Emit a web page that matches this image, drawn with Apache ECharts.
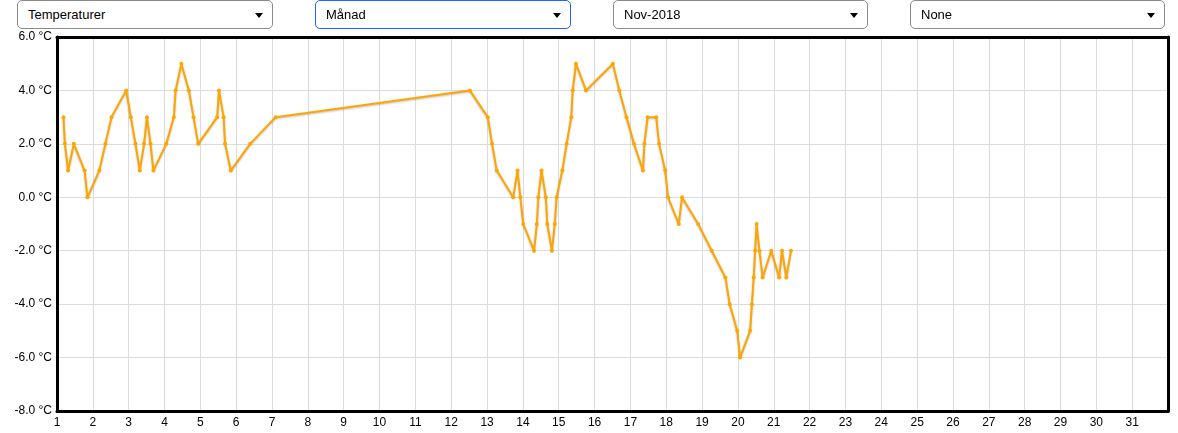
<!DOCTYPE html>
<html>
<head>
<meta charset="utf-8">
<script src="https://cdn.jsdelivr.net/npm/echarts@6/dist/echarts.min.js"></script>
<style>
  html, body { margin: 0; padding: 0; background: #fff; width: 1178px; height: 433px; overflow: hidden; font-family: "Liberation Sans", Arial, sans-serif; }
  #chart { position: absolute; left: 0; top: 0; width: 1178px; height: 433px; }
  .sel { position: absolute; top: 0; height: 29px; box-sizing: border-box; border: 1px solid #8a8a8a; border-radius: 5px; background: #fff; font-size: 13px; color: #000; line-height: 27px; padding-left: 10px; z-index: 2; }
  .sel.focus { border-color: #1a66ff; }
  .sel .arr { position: absolute; right: 9px; top: 12px; width: 0; height: 0; border-left: 4px solid transparent; border-right: 4px solid transparent; border-top: 5px solid #000; }
</style>
</head>
<body>
<div id="chart"></div>
<div class="sel" style="left:17px;width:256px;">Temperaturer<span class="arr"></span></div>
<div class="sel focus" style="left:315px;width:256px;">Månad<span class="arr"></span></div>
<div class="sel" style="left:613px;width:255px;">Nov-2018<span class="arr"></span></div>
<div class="sel" style="left:910px;width:255px;">None<span class="arr"></span></div>
<script>
// Day of month (fractional) of each observation
var days = [1.18, 1.22, 1.31, 1.47, 1.77, 1.85, 2.18, 2.35, 2.52, 2.93,
  3.06, 3.19, 3.31, 3.43, 3.51, 3.61, 3.69, 4.05, 4.26, 4.31,
  4.47, 4.68, 4.81, 4.94, 5.47, 5.52, 5.65, 5.69, 5.85, 6.39,
  7.10, 12.52, 13.02, 13.14, 13.27, 13.73, 13.85, 13.93, 14.01, 14.31,
  14.39, 14.43, 14.52, 14.64, 14.68, 14.81, 14.89, 14.94, 15.10, 15.22,
  15.35, 15.39, 15.48, 15.76, 16.51, 16.69, 16.89, 17.10, 17.35, 17.39,
  17.48, 17.72, 17.80, 17.97, 18.05, 18.35, 18.44, 18.89, 19.27, 19.65,
  19.77, 19.98, 20.06, 20.34, 20.39, 20.44, 20.48, 20.52, 20.60, 20.69,
  20.93, 21.15, 21.23, 21.35, 21.48];
// Temperature (°C)
var temps = [3, 2, 1, 2, 1, 0, 1, 2, 3, 4,
  3, 2, 1, 2, 3, 2, 1, 2, 3, 4,
  5, 4, 3, 2, 3, 4, 3, 2, 1, 2,
  3, 4, 3, 2, 1, 0, 1, 0, -1, -2,
  -1, 0, 1, 0, -1, -2, -1, 0, 1, 2,
  3, 4, 5, 4, 5, 4, 3, 2, 1, 2,
  3, 3, 2, 1, 0, -1, 0, -1, -2, -3,
  -4, -5, -6, -5, -4, -3, -2, -1, -2, -3,
  -2, -3, -2, -3, -2];
var seriesName = 'Temperaturer';

var chart = echarts.init(document.getElementById('chart'));
var pts = days.map(function (d, i) { return [d, temps[i]]; });
chart.setOption({
  animation: false,
  grid: { left: 57, right: 10, top: 37, bottom: 22, show: false },
  xAxis: [{
    type: 'value', min: 1, max: 32, interval: 1, position: 'bottom',
    axisLine: { show: true, onZero: false, lineStyle: { color: '#000', width: 3 } }, axisTick: { show: false },
    axisLabel: { color: '#000', fontSize: 12, fontFamily: 'Liberation Sans', margin: 6,
      formatter: function (v) { return v >= 32 ? '' : String(v); } },
    splitLine: { show: true, showMinLine: false, showMaxLine: false, lineStyle: { color: '#dcdcdc', width: 1 } }
  }, {
    type: 'value', min: 1, max: 32, position: 'top',
    axisLine: { show: true, onZero: false, lineStyle: { color: '#000', width: 3 } },
    axisTick: { show: false }, axisLabel: { show: false }, splitLine: { show: false }
  }],
  yAxis: [{
    type: 'value', min: -8, max: 6, interval: 2, position: 'left',
    axisLine: { show: true, onZero: false, lineStyle: { color: '#000', width: 3 } }, axisTick: { show: false },
    axisLabel: { color: '#000', fontSize: 12, fontFamily: 'Liberation Sans', margin: 5,
      formatter: function (v) { return v.toFixed(1) + ' °C'; } },
    splitLine: { show: true, showMinLine: false, showMaxLine: false, lineStyle: { color: '#dcdcdc', width: 1 } }
  }, {
    type: 'value', min: -8, max: 6, position: 'right',
    axisLine: { show: true, onZero: false, lineStyle: { color: '#000', width: 3 } },
    axisTick: { show: false }, axisLabel: { show: false }, splitLine: { show: false }
  }],
  series: [{
    name: seriesName, type: 'line', data: pts,
    symbol: 'circle', symbolSize: 4, showSymbol: true,
    itemStyle: { color: '#FFA500' },
    lineStyle: { color: '#FFA500', width: 2, shadowColor: 'rgba(0,0,0,0.25)', shadowBlur: 2, shadowOffsetY: 1 }
  }]
});
</script>
</body>
</html>
